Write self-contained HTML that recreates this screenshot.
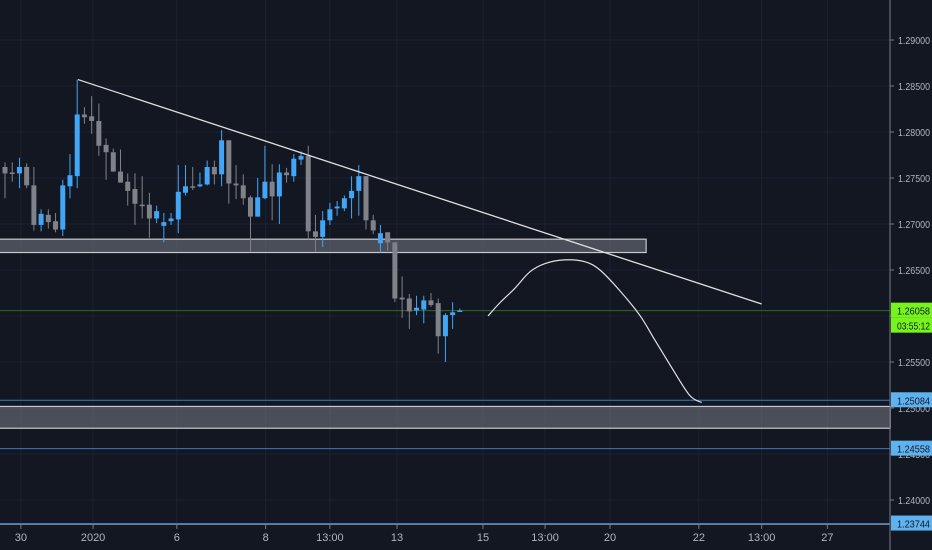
<!DOCTYPE html>
<html><head><meta charset="utf-8">
<style>
html,body{margin:0;padding:0;background:#131722;width:932px;height:550px;overflow:hidden}
svg{display:block;font-family:"Liberation Sans",sans-serif}
</style></head>
<body>
<svg id="chart" width="932" height="550" xmlns="http://www.w3.org/2000/svg">
<rect x="0" y="0" width="932" height="550" fill="#131722"/>
</svg>
<script>
const opens  = [1.2762,1.2756,1.2755,1.2762,1.2742,1.2699,1.2710,1.2703,1.2694,1.2741,1.2752,1.2819,1.2817,1.2812,1.2786,1.2778,1.2757,1.2746,1.2738,1.2721,1.2721,1.2706,1.2698,1.2703,1.2705,1.2734,1.2741,1.2741,1.2743,1.2762,1.2754,1.2791,1.2744,1.2742,1.2729,1.2708,1.2728,1.2746,1.2730,1.2756,1.2752,1.2770,1.2774,1.2692,1.2686,1.2704,1.2717,1.2717,1.2728,1.2736,1.2752,1.2704,1.2679,1.2691,1.2680,1.2620,1.2619,1.2606,1.2607,1.2617,1.2614,1.2578,1.2601,1.2606];
const closes = [1.2755,1.2755,1.2762,1.2742,1.2699,1.2711,1.2702,1.2694,1.2742,1.2753,1.2819,1.2816,1.2812,1.2785,1.2778,1.2757,1.2745,1.2736,1.2722,1.2720,1.2706,1.2714,1.2702,1.2706,1.2735,1.2741,1.2740,1.2743,1.2762,1.2754,1.2791,1.2744,1.2742,1.2728,1.2708,1.2729,1.2746,1.2730,1.2756,1.2753,1.2771,1.2774,1.2692,1.2686,1.2704,1.2716,1.2719,1.2728,1.2736,1.2752,1.2704,1.2693,1.2690,1.2680,1.2619,1.2618,1.2605,1.2609,1.2617,1.2612,1.2578,1.2601,1.2604,1.2606];
const highs  = [1.2767,1.2767,1.2772,1.2766,1.2762,1.2716,1.2716,1.2712,1.2748,1.2776,1.2857,1.2827,1.2839,1.2831,1.2793,1.2782,1.2781,1.2755,1.2755,1.2752,1.2734,1.2720,1.2712,1.2712,1.2764,1.2764,1.2762,1.2756,1.2769,1.2769,1.2802,1.2791,1.2764,1.2754,1.2731,1.2750,1.2785,1.2765,1.2765,1.2761,1.2776,1.2779,1.2785,1.2710,1.2714,1.2723,1.2725,1.2731,1.2752,1.2764,1.2752,1.2710,1.2699,1.2691,1.2680,1.2643,1.2624,1.2622,1.2622,1.2625,1.2619,1.2603,1.2615,1.2608];
const lows   = [1.2728,1.2746,1.2739,1.2739,1.2693,1.2692,1.2695,1.2691,1.2687,1.2728,1.2739,1.2809,1.2798,1.2774,1.2748,1.2757,1.2745,1.2720,1.2699,1.2706,1.2685,1.2701,1.2680,1.2699,1.2690,1.2731,1.2737,1.2740,1.2742,1.2743,1.2741,1.2722,1.2727,1.2721,1.2670,1.2708,1.2727,1.2704,1.2700,1.2745,1.2746,1.2764,1.2683,1.2670,1.2675,1.2699,1.2709,1.2714,1.2706,1.2709,1.2694,1.2689,1.2669,1.2671,1.2615,1.2598,1.2586,1.2601,1.2592,1.2610,1.2559,1.2550,1.2586,1.2605];
const priceTicks = [1.29,1.285,1.28,1.275,1.27,1.265,1.26,1.255,1.25,1.245,1.24];
const timeLabels = ["30","2020","6","8","13:00","13","15","13:00","20","22","13:00","27"];
const timeSlots  = [2.2,12.2,23.8,36.1,45,54.3,66.2,74.8,83.8,96.1,104.8,113.9];
const curveSlots = [66.9,68.5,70.6,72.7,74.8,77.5,80.3,82.4,85.1,87.9,90,92.1,94.8,96.5];
const curvePrices= [1.2600,1.2614,1.2630,1.2648,1.2657,1.2661,1.2659,1.2650,1.2628,1.2601,1.2574,1.2547,1.2514,1.2506];
const trendSlots = [10.1,104.8];
const trendPrices= [1.2857,1.2613];
const zones = [{s:-1,e:88.8,hi:1.26835,lo:1.2669},{s:-1,e:122.6,hi:1.25017,lo:1.2478}];
const lastPrice = 1.26058;
const hLines = [1.25084,1.24558,1.23744];

const NS="http://www.w3.org/2000/svg";
const svg=document.getElementById('chart');
const PW=890;
const y=p=>40+(1.29-p)/0.005*46;
const x=i=>5+i*7.22;
function mk(tag,attrs,parent){const e=document.createElementNS(NS,tag);for(const k in attrs)e.setAttribute(k,attrs[k]);(parent||svg).appendChild(e);return e;}

const grid=mk('g',{});


priceTicks.forEach(p=>{const l=mk('line',{x1:0,x2:PW,y1:y(p),y2:y(p),stroke:'#1e2231','stroke-width':1},grid);

});
timeSlots.forEach(s=>{const l=mk('line',{x1:x(s),x2:x(s),y1:0,y2:524,stroke:'#1e2231','stroke-width':1},grid);

});

zones.forEach(z=>{const r=mk('rect',{x:x(z.s),y:y(z.hi),width:x(z.e)-x(z.s),height:y(z.lo)-y(z.hi),fill:'rgba(120,123,134,0.55)',stroke:'#c8c9cc','stroke-width':1.2});

});

hLines.forEach(p=>{const l=mk('line',{x1:0,x2:PW,y1:y(p),y2:y(p),stroke:'#3a7bbf','stroke-width':1});

});
const lp=mk('line',{x1:0,x2:PW,y1:y(lastPrice),y2:y(lastPrice),stroke:'#2e6b2a','stroke-width':1});



opens.forEach((o,i)=>{const c=closes[i];const up=c>=o;const col=up?'#42a5f5':'#808289';
const g=mk('g',{});


mk('line',{x1:x(i),x2:x(i),y1:y(highs[i]),y2:y(lows[i]),stroke:col,'stroke-width':1},g);
const top=y(Math.max(o,c)),bot=y(Math.min(o,c));
mk('rect',{x:x(i)-2.5,y:top,width:5,height:Math.max(1.5,bot-top),fill:col},g);});

const tl=mk('line',{x1:x(trendSlots[0]),y1:y(trendPrices[0]),x2:x(trendSlots[1]),y2:y(trendPrices[1]),stroke:'#e0e0e0','stroke-width':1.3});



// smooth curve (Catmull-Rom)
const pts=curveSlots.map((s,i)=>[x(s),y(curvePrices[i])]);
let d='M'+pts[0][0]+','+pts[0][1];
for(let i=0;i<pts.length-1;i++){const p0=pts[Math.max(0,i-1)],p1=pts[i],p2=pts[i+1],p3=pts[Math.min(pts.length-1,i+2)];
d+=' C'+(p1[0]+(p2[0]-p0[0])/6)+','+(p1[1]+(p2[1]-p0[1])/6)+' '+(p2[0]-(p3[0]-p1[0])/6)+','+(p2[1]-(p3[1]-p1[1])/6)+' '+p2[0]+','+p2[1];}
const cp=mk('path',{d:d,fill:'none',stroke:'#e0e0e0','stroke-width':1.2});



const ax=mk('line',{x1:PW,x2:PW,y1:0,y2:550,stroke:'#787b86','stroke-width':1});


const bx=mk('line',{x1:0,x2:PW,y1:524.5,y2:524.5,stroke:'#787b86','stroke-width':1});



priceTicks.forEach(p=>{mk('line',{x1:PW,x2:PW+4,y1:y(p),y2:y(p),stroke:'#787b86'});
const t=mk('text',{x:898,y:y(p)+4,fill:'#b2b5be','font-size':10.5,textLength:32,lengthAdjust:'spacingAndGlyphs'});t.textContent=p.toFixed(5);

});

timeLabels.forEach((lab,i)=>{mk('line',{x1:x(timeSlots[i]),x2:x(timeSlots[i]),y1:525,y2:529,stroke:'#787b86'});
const t=mk('text',{x:x(timeSlots[i]),y:541,fill:'#b2b5be','font-size':11,'text-anchor':'middle'});t.textContent=lab;

});

function badge(p,txt,bg,fg,dy,name){const g=mk('g',{});


mk('rect',{x:PW+1,y:y(p)-8+dy,width:41,height:15,fill:bg},g);
const t=mk('text',{x:PW+7,y:y(p)+4+dy,fill:fg,'font-size':10.5,textLength:33,lengthAdjust:'spacingAndGlyphs'},g);t.textContent=txt;}
badge(lastPrice,'1.26058','#76f41c','#131722',0,'last-price-badge');
badge(lastPrice,'03:55:12','#76f41c','#131722',15,'countdown-badge');
hLines.forEach(p=>badge(p,p.toFixed(5),'#5fb2f0','#131722',0,'level-price-badge'));
</script>
</body></html>
